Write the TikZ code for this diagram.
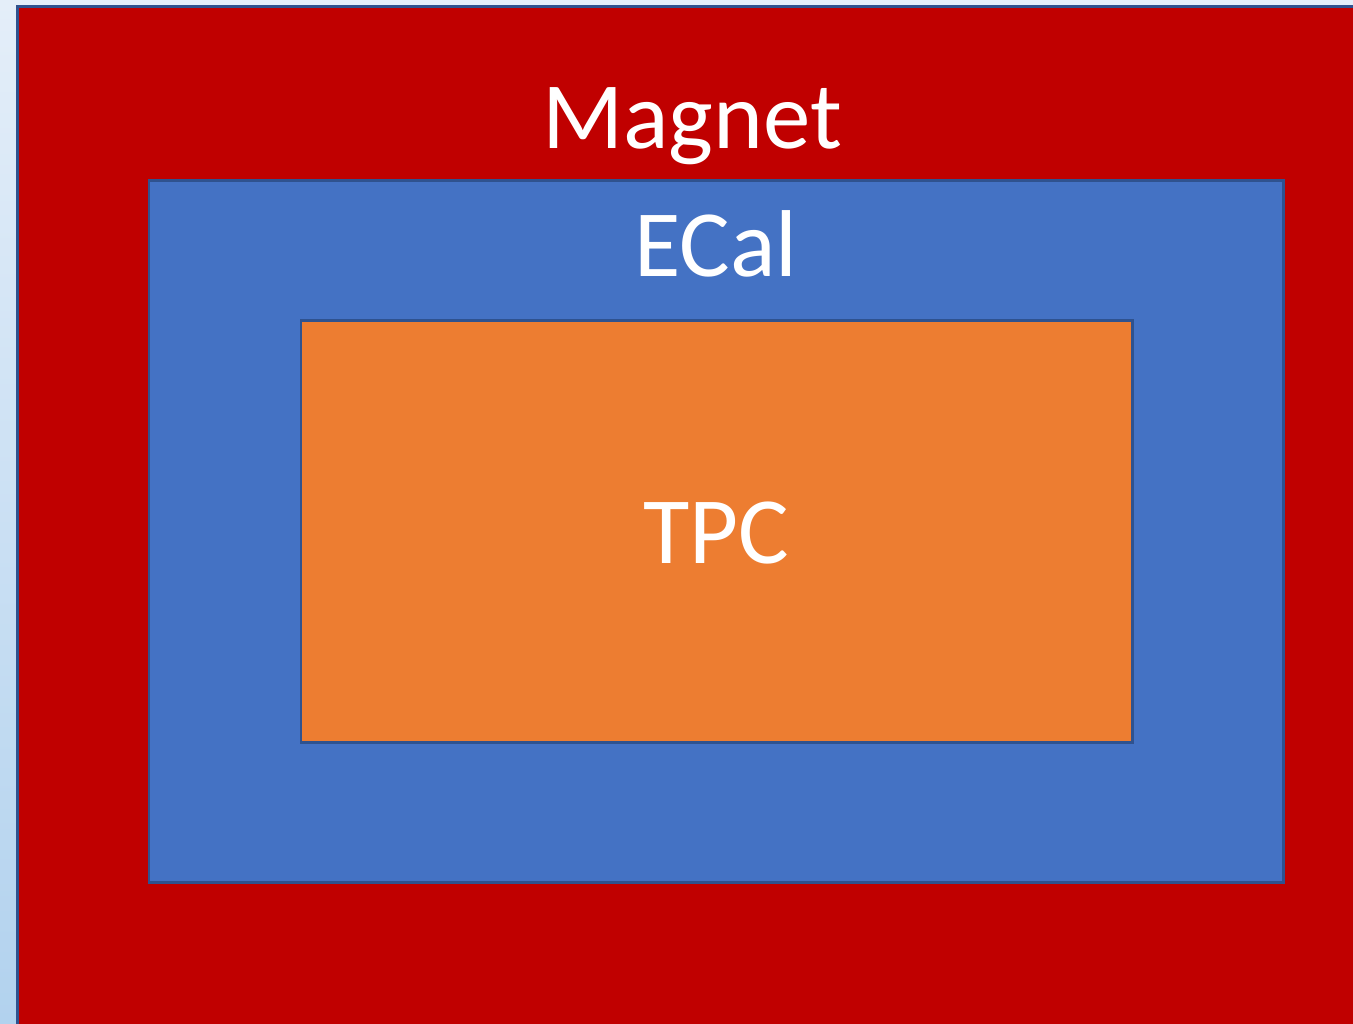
\documentclass[tikz,border=0pt]{standalone}
\usepackage{fontspec}
\setmainfont{Carlito}
\usetikzlibrary{positioning}
\definecolor{magnetred}{HTML}{C00000}
\definecolor{ecalblue}{HTML}{4472C4}
\definecolor{tpcorange}{HTML}{ED7D31}
\definecolor{edgeblue}{HTML}{2F528F}
\definecolor{bgtop}{HTML}{E4EEF9}
\definecolor{bgbottom}{HTML}{B2D2EE}
\tikzset{
  layer/.style={
    draw=edgeblue,line width=0.8pt,rectangle,inner sep=0pt,anchor=north west
  },
  tag/.style={text=white,anchor=base,font=\fontsize{27}{31}\selectfont}
}

\begin{document}
\begin{tikzpicture}[x=0.01cm,y=-0.01cm]

\clip (0,0) rectangle (1353,1023);
\useasboundingbox (0,0) rectangle (1353,1023);
\shade[top color=bgtop,bottom color=bgbottom] (0,0) rectangle (1353,1023);

% nested layers
\node[layer,fill=magnetred,minimum width=13.6cm,minimum height=10.5cm]
  (magnet) at (16,5) {};
\node[layer,fill=ecalblue,minimum width=11.34cm,minimum height=7.02cm]
  (ecal) at (147.5,179) {};
\node[layer,fill=tpcorange,minimum width=8.31cm,minimum height=4.22cm]
  (tpc) at (299.5,319) {};

% labels
\node[tag] (magnetlbl) at (692,148) {Magnet};
\node[tag] (ecallbl) at (716,276) {ECal};
\node[tag] (tpclbl) at (716,563) {TPC};

\end{tikzpicture}
\end{document}
